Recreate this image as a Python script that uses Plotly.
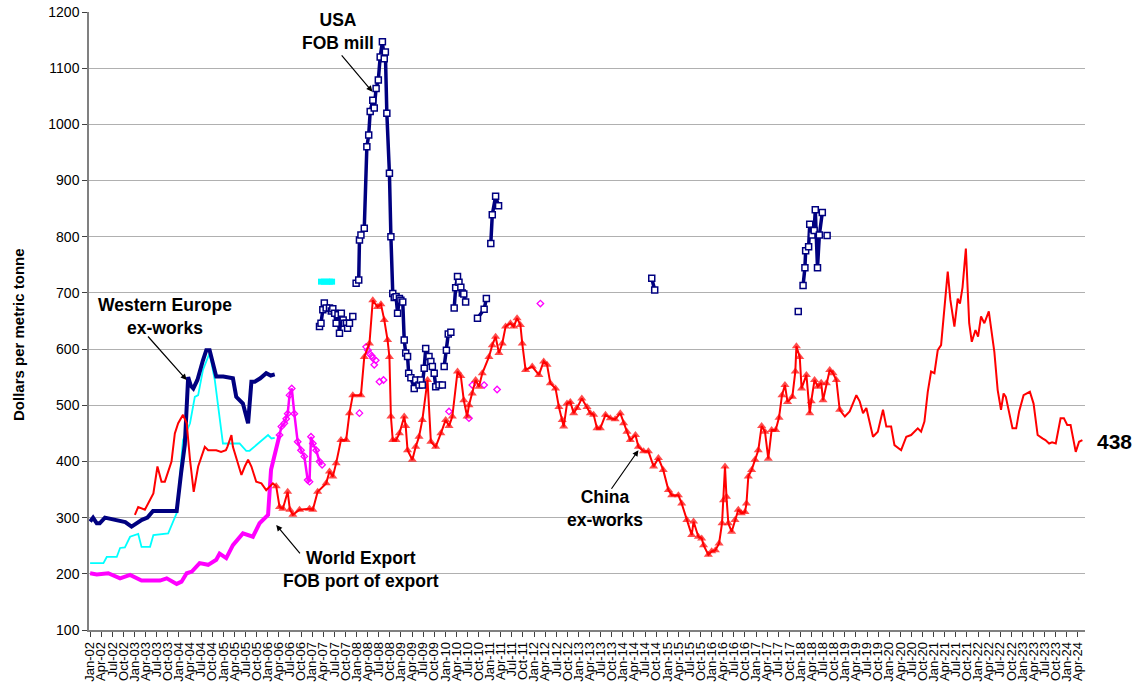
import plotly.graph_objects as go

# ---------------- DATA (x = months since Jan-2002) ----------------
tick_months = ["Jan", "Apr", "Jul", "Oct"]
tick_labels = [f"{mo}-{yr:02d}" for yr in range(2, 25) for mo in tick_months][:90]
tick_vals = [i * 3 for i in range(len(tick_labels))]

# Western Europe ex-works
weu_m = [0, 0.8, 1.8, 2.6, 4, 6, 8, 9.5, 11.2, 12.5, 14, 15.5, 17, 20, 23.4, 24.6, 25.6, 26.5,
         27.2, 27.9, 29, 30.5, 31.4, 32.3, 33.2, 34.1, 36, 38.6, 39.5, 41.3, 42.7, 43.6, 44.5,
         46, 47.6, 48.8, 49.9]
weu_v = [293, 300, 290, 290, 300, 297, 293, 292, 284, 290, 296, 300, 312, 312, 312, 380, 430, 550,
         535, 530, 545, 580, 598, 598, 575, 551, 551, 548, 515, 503, 468, 542, 542,
         548, 557, 553, 555]

# Cyan series
cyan_m = [0, 3.6, 4.5, 7.2, 8.1, 9.4, 10.8, 13, 13.9, 16.2, 17.1, 21.1, 23.4, 25.1, 27, 28.3,
          29.2, 30.5, 32.3, 33.7, 35.9, 40.4, 42.2, 43.1, 48.1, 49, 49.9]
cyan_v = [219, 219, 230, 230, 246, 247, 266, 271, 248, 248, 269, 272, 308, 438, 468, 515,
          518, 563, 593, 545, 432, 432, 419, 419, 447, 441, 442]

cyan_sq_m = [62.4, 63.2, 64.0, 64.8, 65.4]
cyan_sq_v = [720, 720, 720, 720, 720]

# World Export FOB port of export
wexp_m = [0, 1.8, 4.9, 8.1, 10.8, 13.9, 18.9, 20.7, 23.4, 24.7, 26.1, 27.5, 29.6, 31.9, 34.1,
          35, 36.8, 38.6, 41.3, 44, 45.8, 48.1, 48.9, 50.3, 51.2]
wexp_v = [201, 199, 201, 192, 198, 188, 188, 192, 182, 186, 201, 204, 219, 216, 225,
          236, 228, 251, 272, 266, 290, 305, 385, 420, 447]
wexp2_m = [51.2, 51.7, 52.5, 53, 53.4, 53.9, 54.5, 55.2, 56.1, 57, 57.9, 58.8, 59.3, 59.7,
           60.2, 61.1, 62, 62.7]
wexp2_v = [447, 462, 468, 476, 485, 518, 530, 485, 435, 420, 409, 367, 364, 444,
           432, 420, 400, 394]
wexp3_m = [72.8, 74.6, 75.1, 75.5, 76.1, 76.4, 76.8, 77.2, 78.2, 79.3, 97, 102.4, 103.3,
           106.5, 110, 121.7]
wexp3_v = [486, 604, 598, 592, 588, 584, 572, 580, 542, 545, 489, 477, 536,
           536, 528, 681]

# China ex-works
china_m = [12.1, 13, 14.8, 16.2, 17.1, 18.2, 19.3, 20.2, 22, 22.9, 23.8, 25.1, 26.1, 27, 28,
           29.2, 31, 31.9, 34.1, 35.4, 36.7, 37.1, 38.2, 38.6, 39.5, 40.9, 41.8, 42.7, 43.6,
           44.9, 46.3, 47.6, 49.4, 50.3, 51.2, 52.1, 53.4, 54, 54.8, 56.6, 59.3, 60.2, 61.5,
           63.8, 64.7, 65.6, 66.5, 67.8, 69.2, 70.1, 71, 73.2, 74.1, 75.5, 76.4, 77.7, 78.6,
           79.5, 80.4, 80.9, 81.3, 81.8, 82.7, 83.6, 84.9, 85.3, 85.8, 87.1, 88, 88.9, 89.8,
           91.2, 92.1, 93.4, 94.8, 96.1, 97, 97.9, 99.3, 100.2, 101, 101.9, 102.4, 103.3,
           104.2, 105.1, 106, 107.8, 108.7, 109.6, 110.5, 111.4, 112.3, 113.6, 114.5, 115.4,
           116.3, 116.8, 117.7, 119.5, 121.3, 122.6, 123.5, 124.4, 125.8, 126.7, 127.6, 128,
           128.9, 129.8, 130.7, 131.6, 132.9, 134.3, 135.2, 136.1, 137, 137.9, 139.3, 140.6,
           141.9, 143.3, 144.2, 145.1, 146, 147.4, 148.2, 149.6, 150.9, 152.3, 153.6, 154.9,
           156.3, 157.2, 159, 159.9, 161.3, 162.6, 163.1, 164.4, 165.3, 165.8, 167.1, 168,
           169, 170, 170.8, 171.2, 171.6, 172, 172.5, 173.4, 174.3, 175.2, 176, 177, 177.4,
           177.9, 178.8, 179.7, 180.6, 181.5, 182.4, 183.3, 184.2, 185.3, 186.2, 187, 187.8,
           188.5, 189.8, 190.6, 190.9, 191.8, 192.3, 193.6, 194.5, 194.9, 195.8, 196.7, 197.6,
           198.1, 199, 199.9, 200.8, 201.7, 202.6, 204, 205.3, 207.1, 208, 208.9, 209.8,
           211.6, 212.9, 214.3, 215.2, 216.5, 217.4, 219.2, 220.6, 221.9, 223.7, 224.6, 225.5,
           226.4, 227.3, 228.2, 229.1, 230, 231.8, 232.5, 233.6, 234.5, 235.1, 235.8, 236.7,
           237.6, 238.3, 239.3, 240, 240.8, 241.7, 242.9, 244.4, 245.3, 246.2, 246.9, 247.5,
           248.4, 249.3, 250.3, 251.1, 252.3, 253.4, 254, 255, 256.1, 257.4, 258.2, 259.2,
           260, 261, 262.3, 263.2, 264.1, 265, 266.4, 267.3, 268.2]
china_v = [305, 319, 314, 331, 343, 391, 364, 364, 400, 450, 468, 483, 468, 403, 346,
           391, 426, 420, 420, 417, 420, 426, 447, 426, 408, 376, 391, 403, 391,
           364, 361, 349, 361, 356, 319, 316, 346, 314, 305, 314, 316, 314, 346,
           361, 382, 373, 397, 438, 438, 486, 518, 518, 586, 610, 687, 675, 680,
           652, 616, 586, 480, 438, 438, 450, 480, 463, 420, 403, 426, 444, 474,
           545, 435, 426, 450, 474, 463, 480, 560, 552, 509, 480, 500, 521,
           545, 533, 557, 586, 607, 622, 593, 610, 640, 646, 640, 655,
           643, 610, 563, 569, 554, 578, 572, 539, 530, 497, 474, 462,
           503, 506, 486, 495, 512, 497, 486, 483, 459, 459, 483, 477,
           475, 486, 468, 453, 438, 447, 426, 418, 418, 391, 406, 385,
           349, 340, 340, 325, 296, 269, 293, 266, 263, 251, 234, 240,
           242, 254, 290, 331, 391, 337, 290, 275, 296, 314, 308, 310, 325,
           373, 385, 403, 420, 463, 453, 405, 456, 456, 478, 518, 536,
           506, 515, 560, 605, 586, 530, 554, 486, 507, 545, 533, 540,
           509, 539, 563, 557, 545, 492, 480, 489, 518, 507, 486, 495,
           444, 453, 492, 462, 462, 429, 420, 444, 447, 459, 453, 471,
           524, 560, 557, 598, 607, 738, 688, 640, 690, 681, 710, 779,
           646, 613, 634, 622, 658, 646, 667, 595, 527, 492, 521, 515,
           486, 459, 459, 489, 518, 521, 524, 503, 447, 441, 438, 432,
           434, 432, 477, 477, 465, 465, 417, 435, 438]

# USA FOB mill (None = gap in the series)
usa_m = [62, 62.4, 62.9, 63.3, 63.8, 64.7, 65.2, 65.6, 66.1, 66.5, 67, 67.4, 67.9, 68.4, 68.8,
         69.3, 69.6, 70.1, 71, None,
         71.9, 72.6, 72.8, 73.2, 74.1, 74.8, 75.3, 75.7, 76.4, 76.8, 77.3, 77.9, 78.4, 79,
         79.5, 79.8, 80.2, 80.9, 81.3, 81.8, 82.2, 82.7, 83.1, 83.6, 84, 84.5, 84.9, 85.3,
         85.8, 86.1, 86.7, 87.6, 88, 88.9, 89.3, 89.8, 90.3, 90.7, 91.6, 92.1, 92.5, 93,
         93.4, 94.3, 95.2, None,
         95.7, 96.3, 96.8, 97.5, None,
         98.4, 98.8, 99.3, 99.7, 100.2, 100.6, 101, 101.5, None,
         104.7, 106.5, 107.1, None,
         108.3, 108.7, 109.6, 110.4, None,
         151.8, 152.6, None,
         191.4, None,
         192.7, 193.2, 193.4, 194.2, 194.5, 195.1, 195.7, 196, 196.6, 197.1, 197.9, None,
         199.2]
usa_v = [640, 646, 670, 682, 673, 673, 668, 672, 664, 646, 661, 628, 664, 652, 646,
         646, 637, 646, 658, None,
         717, 723, 794, 803, 815, 960, 981, 1023, 1043, 1029, 1064, 1079, 1120, 1147,
         1117, 1129, 1020, 913, 800, 699, 692, 693, 664, 690, 687, 684, 616, 593,
         587, 557, 549, 530, 545, 536, 545, 536, 566, 601, 587, 578, 569, 557,
         533, 536, 536, None,
         569, 598, 627, 630, None,
         673, 709, 729, 719, 710, 700, 698, 684, None,
         655, 671, 690, None,
         788, 839, 872, 855, None,
         726, 705, None,
         667, None,
         713, 745, 775, 782, 822, 803, 811, 848, 745, 803, 843, None,
         802]

last_value = china_v[-1]

# ---------------- FIGURE ----------------
FONT = "Arial, Liberation Sans, sans-serif"
NAVY = "#000080"
RED = "#FF0000"
MAG = "#FF00FF"
CYAN = "#00FFFF"

fig = go.Figure()

fig.add_trace(go.Scatter(x=cyan_m, y=cyan_v, mode="lines",
                         line=dict(color=CYAN, width=1.8)))
fig.add_trace(go.Scatter(x=weu_m, y=weu_v, mode="lines",
                         line=dict(color=NAVY, width=4)))
fig.add_trace(go.Scatter(x=wexp_m, y=wexp_v, mode="lines",
                         line=dict(color=MAG, width=4)))
fig.add_trace(go.Scatter(x=wexp2_m, y=wexp2_v, mode="lines+markers",
                         line=dict(color=MAG, width=2.5),
                         marker=dict(symbol="diamond-open", size=5, color=MAG,
                                     line=dict(width=1.3))))
fig.add_trace(go.Scatter(x=wexp3_m, y=wexp3_v, mode="markers",
                         marker=dict(symbol="diamond-open", size=5, color=MAG,
                                     line=dict(width=1.3))))

china_sizes = [8 if 50 <= m <= 203 else 0 for m in china_m]
fig.add_trace(go.Scatter(x=china_m, y=china_v, mode="lines+markers",
                         line=dict(color=RED, width=2),
                         marker=dict(symbol="triangle-up", size=china_sizes, color=RED,
                                     line=dict(width=0))))

fig.add_trace(go.Scatter(x=cyan_sq_m, y=cyan_sq_v, mode="lines+markers",
                         line=dict(color=CYAN, width=4),
                         marker=dict(symbol="square", size=6, color=CYAN)))

fig.add_trace(go.Scatter(x=usa_m, y=usa_v, mode="lines+markers", connectgaps=False,
                         line=dict(color=NAVY, width=3.5),
                         marker=dict(symbol="square", size=6, color="white",
                                     line=dict(color=NAVY, width=1.5))))

L, R, T, B = 89, 53, 12, 59
W, H = 1138, 689
pw, ph = W - L - R, H - T - B


def px(xp):
    return (xp - L) / pw


def py(yp):
    return (H - B - yp) / ph


label_font = dict(family=FONT, size=17.5, color="black")
arrow = dict(text="", showarrow=True, arrowhead=2, arrowsize=1, arrowwidth=1.2,
             arrowcolor="black")
annotations = [
    dict(x=76.3, y=1058, ax=-32, ay=-38, **arrow),
    dict(x=26.1, y=545, ax=-40, ay=-45, **arrow),
    dict(x=50.3, y=287, ax=25, ay=30, **arrow),
    dict(x=148.2, y=420, ax=-28, ay=40, **arrow),
    dict(xref="paper", yref="paper", x=px(338), y=py(31), xanchor="center", yanchor="middle",
         text="<b>USA<br>FOB mill</b>", showarrow=False, font=label_font, align="center"),
    dict(xref="paper", yref="paper", x=px(165), y=py(316), xanchor="center", yanchor="middle",
         text="<b>Western Europe<br>ex-works</b>", showarrow=False, font=label_font,
         align="center"),
    dict(xref="paper", yref="paper", x=px(361), y=py(569), xanchor="center", yanchor="middle",
         text="<b>World Export<br>FOB port of export</b>", showarrow=False,
         font=label_font, align="center"),
    dict(xref="paper", yref="paper", x=px(605), y=py(508), xanchor="center", yanchor="middle",
         text="<b>China<br>ex-works</b>", showarrow=False, font=label_font, align="center"),
    dict(xref="paper", yref="paper", x=px(1095), y=py(441), xanchor="left", yanchor="middle",
         text=f"<b>{last_value}</b>", showarrow=False,
         font=dict(family=FONT, size=21, color="black")),
    dict(xref="paper", yref="paper", x=px(18), y=py(335), xanchor="center", yanchor="middle",
         textangle=-90, text="<b>Dollars per metric tonne</b>", showarrow=False,
         font=dict(family=FONT, size=15, color="black")),
]

fig.update_layout(
    width=W, height=H,
    margin=dict(l=L, r=R, t=T, b=B, pad=0, autoexpand=False),
    paper_bgcolor="white", plot_bgcolor="white",
    showlegend=False,
    font=dict(family=FONT, color="black"),
    annotations=annotations,
    xaxis=dict(range=[-0.3, 268.9], tickmode="array", tickvals=tick_vals,
               ticktext=tick_labels, tickangle=-90, tickfont=dict(size=13, family=FONT),
               showgrid=False, zeroline=False, showline=True, linecolor="#808080",
               linewidth=1.5, ticks="outside", ticklen=5, tickcolor="#404040",
               automargin=False),
    yaxis=dict(range=[100, 1200], dtick=100, tickfont=dict(size=14, family=FONT),
               showgrid=True, gridcolor="#b0b0b0", gridwidth=1.2, zeroline=False,
               showline=True, linecolor="#808080", linewidth=1.5, ticks="outside",
               ticklen=5, tickcolor="#404040", automargin=False),
)

fig.write_html("out.html", config={"displayModeBar": False},
               post_script="document.body.style.margin='0px';document.body.style.overflow='hidden';")
